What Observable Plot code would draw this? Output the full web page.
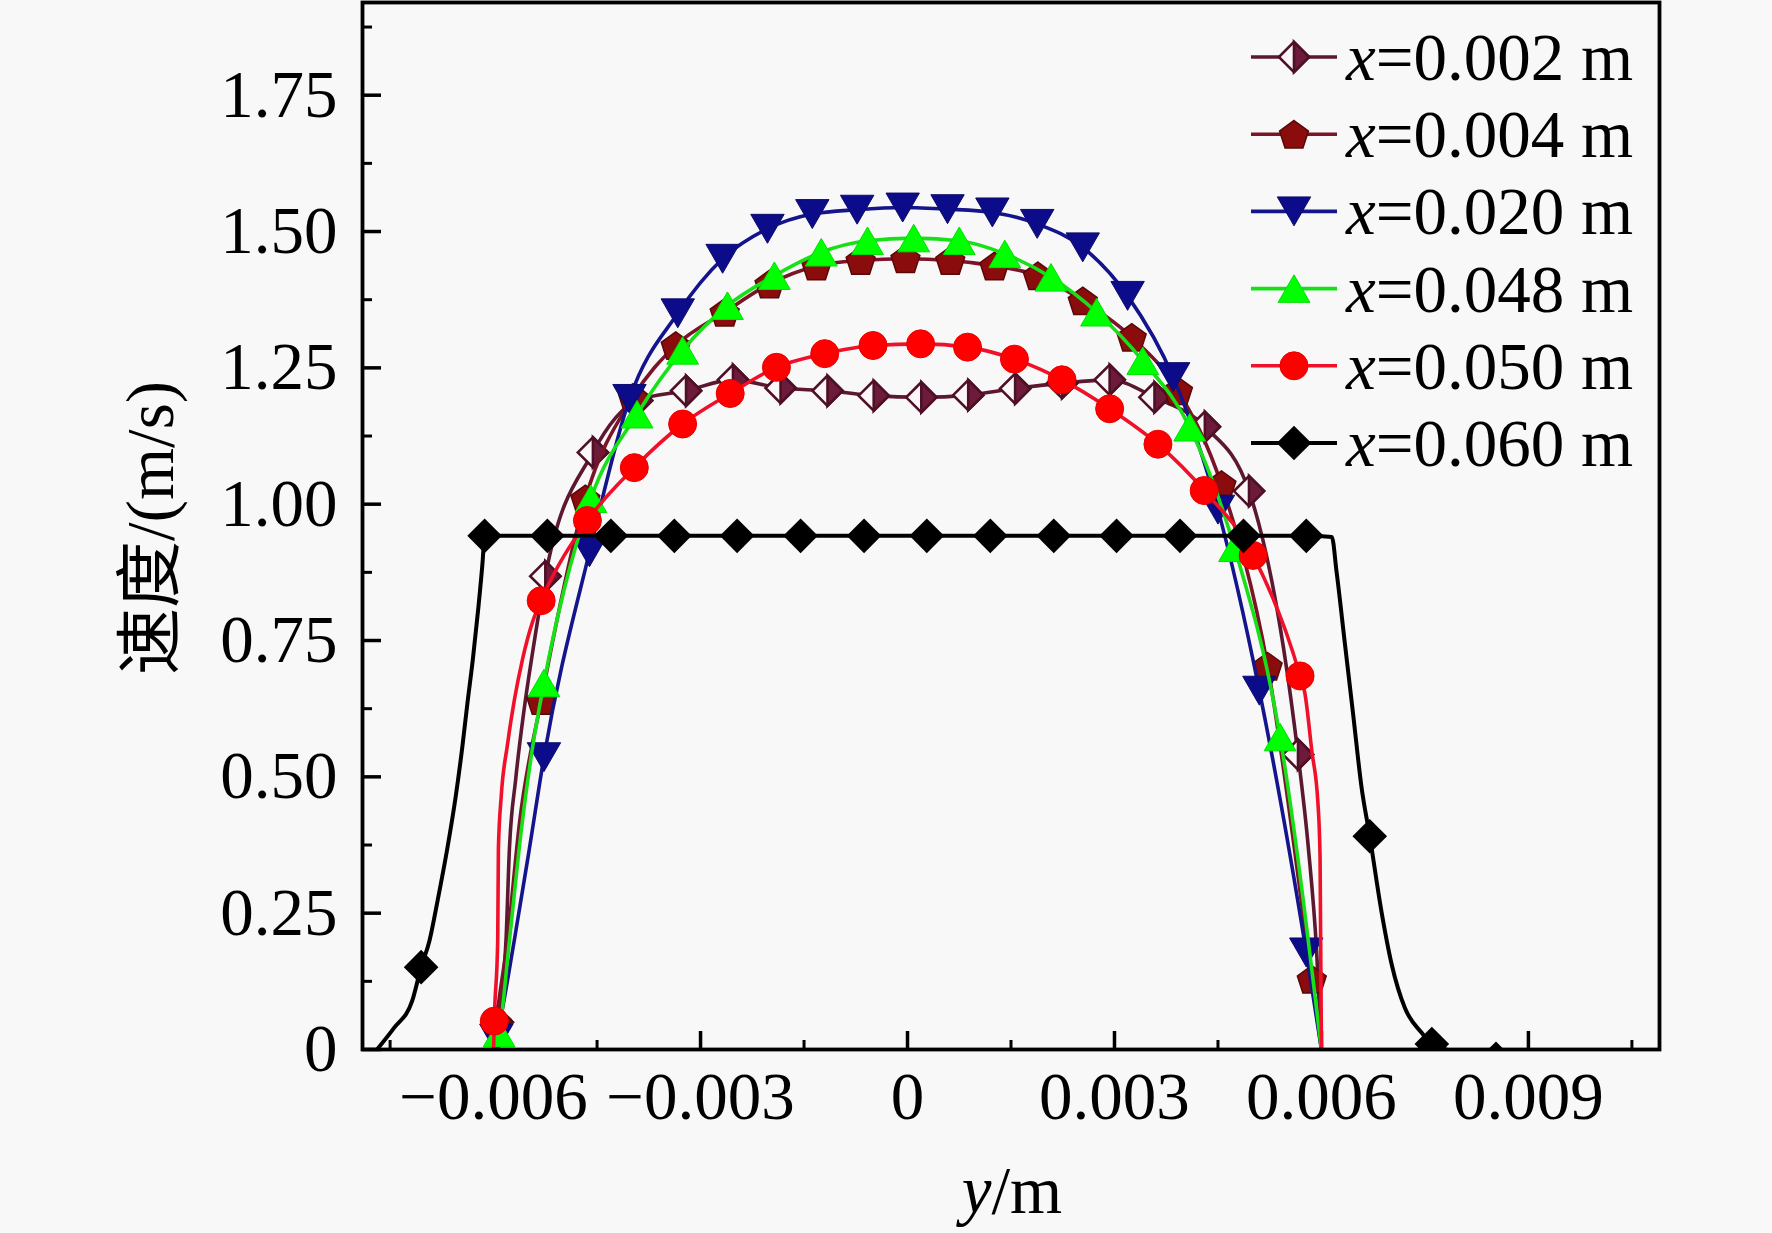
<!DOCTYPE html>
<html>
<head>
<meta charset="utf-8">
<script src="https://cdn.jsdelivr.net/npm/d3@7"></script>
<script src="https://cdn.jsdelivr.net/npm/@observablehq/plot@0.6"></script>
<style>
html, body { margin: 0; padding: 0; background: #f8f8f8; }
#chart { position: relative; width: 1772px; height: 1233px; }
</style>
</head>
<body>
<div id="chart"></div>
<script>
// ---------- data (y position in m, velocity in m/s) ----------
const seriesLabels = ["=0.002 m", "=0.004 m", "=0.020 m", "=0.048 m", "=0.050 m", "=0.060 m"];

const xMajorTicks = [-0.006, -0.003, 0, 0.003, 0.006, 0.009];
const xMinorTicks = [-0.0075, -0.0045, -0.0015, 0.0015, 0.0045, 0.0075, 0.0105];
const yMajorTicks = [0, 0.25, 0.5, 0.75, 1.0, 1.25, 1.5, 1.75];
const yMinorTicks = [0.125, 0.375, 0.625, 0.875, 1.125, 1.375, 1.625, 1.875];

// x = 0.002 m
const s002Markers = [
  [-0.00594, 0.05], [-0.00525, 0.868], [-0.00456, 1.095], [-0.00392, 1.19],
  [-0.00321, 1.208], [-0.00253, 1.228], [-0.00184, 1.213], [-0.00116, 1.208],
  [-0.00049, 1.199], [0.00020, 1.196], [0.00088, 1.200], [0.00156, 1.212],
  [0.00224, 1.222], [0.00293, 1.228], [0.00358, 1.196], [0.00431, 1.142],
  [0.00495, 1.024], [0.00566, 0.541]
];
const s002Curve = [
  [-0.0060, 0], [-0.00582, 0.2], [-0.00577, 0.369], [-0.00568, 0.495],
  [-0.00556, 0.621], [-0.00541, 0.748], [0.00581, 0.37], [0.00593, 0.18], [0.0060, 0]
];

// x = 0.004 m
const s004Markers = [
  [-0.00596, 0.05], [-0.00531, 0.640], [-0.00467, 1.01], [-0.00398, 1.196],
  [-0.00336, 1.291], [-0.00265, 1.352], [-0.00200, 1.404], [-0.00132, 1.437],
  [-0.00068, 1.447], [-0.00003, 1.450], [0.00062, 1.447], [0.00126, 1.437],
  [0.00189, 1.419], [0.00254, 1.373], [0.00325, 1.306], [0.00392, 1.208],
  [0.00455, 1.036], [0.00522, 0.703], [0.00586, 0.129]
];
const s004Curve = [[-0.0060, 0], [-0.0058, 0.2], [-0.00562, 0.42], [0.0060, 0]];

// x = 0.020 m
const s020Markers = [
  [-0.00596, 0.02], [-0.00527, 0.536], [-0.00461, 0.912], [-0.00403, 1.193],
  [-0.00333, 1.350], [-0.00268, 1.450], [-0.00203, 1.505], [-0.00138, 1.532],
  [-0.00073, 1.540], [-0.00007, 1.544], [0.00058, 1.541], [0.00123, 1.535],
  [0.00188, 1.514], [0.00254, 1.471], [0.00319, 1.382], [0.00385, 1.233],
  [0.00450, 0.99], [0.00510, 0.658], [0.00578, 0.178]
];
const s020Curve = [[-0.0060, 0], [-0.0057, 0.2], [-0.00548, 0.369], [0.0060, 0]];

// x = 0.048 m
const s048Markers = [
  [-0.00592, 0.03], [-0.00527, 0.672], [-0.00459, 1.010], [-0.00392, 1.165],
  [-0.00326, 1.282], [-0.00261, 1.364], [-0.00193, 1.419], [-0.00125, 1.462],
  [-0.00058, 1.483], [0.00009, 1.488], [0.00075, 1.483], [0.00141, 1.459],
  [0.00208, 1.416], [0.00274, 1.352], [0.00341, 1.263], [0.00409, 1.141],
  [0.00474, 0.92], [0.00540, 0.573]
];
const s048Curve = [[-0.0060, 0], [-0.00577, 0.2], [-0.0056, 0.40], [-0.00543, 0.558], [0.0060, 0]];

// x = 0.050 m
const s050Markers = [
  [-0.00599, 0.052], [-0.00531, 0.823], [-0.00464, 0.970], [-0.00396, 1.067],
  [-0.00326, 1.147], [-0.00257, 1.203], [-0.00190, 1.251], [-0.00120, 1.276],
  [-0.00050, 1.291], [0.00019, 1.294], [0.00087, 1.288], [0.00155, 1.266],
  [0.00224, 1.228], [0.00293, 1.175], [0.00363, 1.110], [0.00430, 1.025],
  [0.00501, 0.906], [0.00569, 0.685]
];
const s050Curve = [
  [-0.0060, 0], [-0.00594, 0.2], [-0.00593, 0.369], [-0.00589, 0.463], [-0.00580, 0.558],
  [-0.00570, 0.640], [-0.00558, 0.716], [-0.00543, 0.786],
  [0.00576, 0.653], [0.00586, 0.548], [0.00595, 0.45], [0.00598, 0.352], [0.0060, 0]
];

// x = 0.060 m
const s060Markers = [
  [-0.00705, 0.151], [-0.00613, 0.942], [-0.00522, 0.942], [-0.00430, 0.942],
  [-0.00338, 0.942], [-0.00247, 0.942], [-0.00155, 0.942], [-0.00063, 0.942],
  [0.00028, 0.942], [0.00120, 0.942], [0.00212, 0.942], [0.00303, 0.942],
  [0.00395, 0.942], [0.00487, 0.942], [0.00578, 0.942], [0.00670, 0.391],
  [0.00760, 0.010], [0.00853, -0.017]
];
const s060Curve = [
  [-0.00769, 0], [-0.00744, 0.040], [-0.00718, 0.089], [-0.00693, 0.199], [-0.00681, 0.274],
  [-0.00667, 0.369], [-0.00655, 0.463], [-0.00645, 0.558], [-0.00638, 0.634], [-0.00630, 0.716],
  [-0.00622, 0.811], [-0.00616, 0.893],
  [0.00615, 0.94], [0.00622, 0.875], [0.00634, 0.744], [0.00646, 0.614], [0.00658, 0.482],
  [0.00687, 0.253], [0.00702, 0.155], [0.00721, 0.076], [0.00745, 0.031]
];

// ---------- symbols ----------
const SQ3 = Math.sqrt(3);
const R = size => Math.sqrt(size / Math.PI);
const symDiamond = { draw(c, s) { const h = 1.11 * R(s); c.moveTo(0, -h); c.lineTo(h, 0); c.lineTo(0, h); c.lineTo(-h, 0); c.closePath(); } };
const symHalfDiamond = { draw(c, s) { const h = 1.11 * R(s); c.moveTo(0, -h); c.lineTo(h, 0); c.lineTo(0, h); c.closePath(); } };
const symTriUp = { draw(c, s) { const y = 0.7776 * R(s); c.moveTo(0, -1.5 * y); c.lineTo(SQ3 * y, 1.5 * y); c.lineTo(-SQ3 * y, 1.5 * y); c.closePath(); } };
const symTriDown = { draw(c, s) { const y = 0.7776 * R(s); c.moveTo(0, 1.5 * y); c.lineTo(-SQ3 * y, -1.5 * y); c.lineTo(SQ3 * y, -1.5 * y); c.closePath(); } };
const symPentagon = { draw(c, s) { const p = 1.1 * R(s); for (let k = 0; k < 5; k++) { const a = -Math.PI / 2 + k * 2 * Math.PI / 5; const px = p * Math.cos(a), py = p * Math.sin(a) + 0.1 * p; if (k === 0) c.moveTo(px, py); else c.lineTo(px, py); } c.closePath(); } };
const symCircle = { draw(c, s) { const r = R(s); c.moveTo(r, 0); c.arc(0, 0, r, 0, 2 * Math.PI); } };

// ---------- series styling ----------
const series = [
  { label: seriesLabels[0], markers: s002Markers, curve: s002Curve, line: "#5c1830", lw: 3.6,
    layers: [ { sym: symDiamond, r: 13.6, fill: "#fbf6f8", stroke: "#4e1026", sw: 2.6 },
              { sym: symHalfDiamond, r: 13.6, fill: "#6e1a3a", stroke: "#4e1026", sw: 2.6 } ] },
  { label: seriesLabels[1], markers: s004Markers, curve: s004Curve, line: "#7a1426", lw: 3.6,
    layers: [ { sym: symPentagon, r: 13.8, fill: "#8a0c0c", stroke: "#5a0808", sw: 1.5 } ] },
  { label: seriesLabels[2], markers: s020Markers, curve: s020Curve, line: "#14148c", lw: 3.6,
    layers: [ { sym: symTriDown, r: 12.4, fill: "#0c0c8a", stroke: "#0c0c6a", sw: 1 } ] },
  { label: seriesLabels[3], markers: s048Markers, curve: s048Curve, line: "#18e018", lw: 3.6,
    layers: [ { sym: symTriUp, r: 11.8, fill: "#00ff00", stroke: "#00e000", sw: 1 } ] },
  { label: seriesLabels[4], markers: s050Markers, curve: s050Curve, line: "#f0102a", lw: 3.6,
    layers: [ { sym: symCircle, r: 14, fill: "#ff0000", stroke: "#e80000", sw: 1 } ] },
  { label: seriesLabels[5], markers: s060Markers, curve: s060Curve, line: "#000000", lw: 4,
    layers: [ { sym: symDiamond, r: 15.6, fill: "#000000", stroke: "none", sw: 0 } ] }
];

const fmtX = d => d === 0 ? "0" : d3.format(".3f")(d);
const fmtY = d => d === 0 ? "0" : d3.format(".2f")(d);

const seriesMarks = series.flatMap(s => {
  const lineData = [...s.markers, ...s.curve].sort((a, b) => a[0] - b[0]);
  return [
    Plot.line(lineData, { x: d => d[0], y: d => d[1], stroke: s.line, strokeWidth: s.lw, curve: "monotone-x", clip: true }),
    ...s.layers.map(L => Plot.dot(s.markers, { x: d => d[0], y: d => d[1], symbol: L.sym, r: L.r, fill: L.fill, stroke: L.stroke, strokeWidth: L.sw, clip: true }))
  ];
});

const plot = Plot.plot({
  width: 1772,
  height: 1233,
  marginLeft: 362,
  marginRight: 113,
  marginTop: 2,
  marginBottom: 184,
  x: { domain: [-0.0079, 0.0109] },
  y: { domain: [0, 1.92] },
  style: { fontFamily: '"Liberation Serif", "Times New Roman", serif', fontSize: "67px", background: "#f8f8f8", color: "black", overflow: "visible" },
  marks: [
    Plot.axisX(xMajorTicks, { tickSize: -18, tickPadding: 40, tickFormat: fmtX, strokeWidth: 3.5, label: null }),
    Plot.axisX(xMinorTicks, { tickSize: -9, tickPadding: 40, tickFormat: () => "", strokeWidth: 3, label: null }),
    Plot.axisY(yMajorTicks, { tickSize: -19, tickPadding: 44, tickFormat: fmtY, strokeWidth: 3.5, label: null }),
    Plot.axisY(yMinorTicks, { tickSize: -10, tickPadding: 44, tickFormat: () => "", strokeWidth: 3, label: null }),
    ...seriesMarks,
    Plot.frame({ stroke: "black", strokeWidth: 3.8 })
  ]
});

document.getElementById("chart").appendChild(plot);

// ---------- axis titles and legend ----------
const svg = d3.select(plot);
const fontFam = '"Liberation Serif", "Times New Roman", "Noto Sans CJK SC", serif';

const xt = svg.append("text")
  .attr("x", 1012).attr("y", 1213)
  .attr("text-anchor", "middle")
  .attr("font-family", fontFam).attr("font-size", 67).attr("fill", "black");
xt.append("tspan").attr("font-style", "italic").text("y");
xt.append("tspan").text("/m");

svg.append("text")
  .attr("transform", "translate(150,528) rotate(-90)")
  .attr("text-anchor", "middle")
  .attr("dy", "0.35em")
  .attr("font-family", fontFam).attr("font-size", 67).attr("fill", "black")
  .text("速度/(m/s)");

const lg = svg.append("g");
series.forEach((s, i) => {
  const cy = 57 + i * 77.2;
  lg.append("line").attr("x1", 1251).attr("x2", 1337).attr("y1", cy).attr("y2", cy)
    .attr("stroke", s.line).attr("stroke-width", s.lw);
  s.layers.forEach(L => {
    lg.append("path")
      .attr("transform", `translate(1294,${cy})`)
      .attr("d", d3.symbol().type(L.sym).size(Math.PI * L.r * L.r)())
      .attr("fill", L.fill).attr("stroke", L.stroke).attr("stroke-width", L.sw);
  });
  const t = lg.append("text").attr("x", 1346).attr("y", cy + 23)
    .attr("text-anchor", "start")
    .attr("font-family", fontFam).attr("font-size", 67).attr("fill", "black");
  t.append("tspan").attr("font-style", "italic").text("x");
  t.append("tspan").text(s.label);
});
</script>
</body>
</html>
